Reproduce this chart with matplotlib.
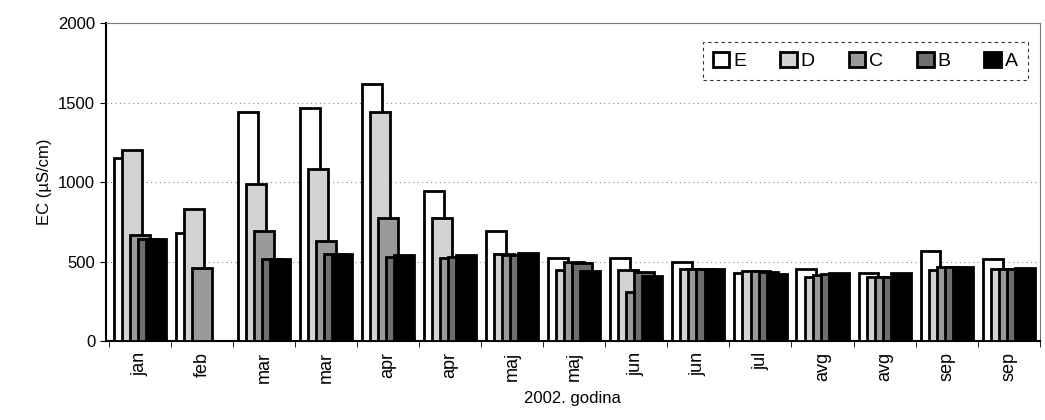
#!/usr/bin/env python3
"""EC by month and site, grouped overlapping bars."""

import numpy as np
import matplotlib

matplotlib.use("Agg")
import matplotlib.pyplot as plt

MONTHS = ["jan", "feb", "mar", "mar", "apr", "apr", "maj", "maj",
          "jun", "jun", "jul", "avg", "avg", "sep", "sep"]
SERIES = ["E", "D", "C", "B", "A"]

E = [1150, 680, 1440, 1465, 1620, 945, 690, 520, 520, 500, 425, 455, 430, 565, 515]
D = [1200, 830, 990, 1085, 1440, 775, 550, 450, 450, 455, 440, 400, 400, 445, 455]
C = [670, 460, 690, 630, 775, 520, 540, 500, 310, 455, 440, 415, 405, 465, 455]
B = [640, np.nan, 515, 550, 530, 530, 540, 490, 435, 455, 435, 420, 405, 465, 455]
A = [640, np.nan, 515, 550, 540, 540, 555, 440, 410, 455, 420, 430, 425, 465, 460]

COLORS = ["white", "#d2d2d2", "#9a9a9a", "#6e6e6e", "black"]

plt.rcParams["font.family"] = ["Liberation Sans", "DejaVu Sans"]

fig = plt.figure(figsize=(10.45, 4.2), dpi=100)
ax = fig.add_axes([0.101, 0.188, 0.894, 0.757])

x = np.arange(len(MONTHS))
step = 0.13
width = 0.32
for i, (name, vals, color) in enumerate(zip(SERIES, [E, D, C, B, A], COLORS)):
    ax.bar(x + (i - 2) * step, vals, width, color=color, edgecolor="black",
           linewidth=2, label=name, zorder=3 + i)

ax.set_xlim(-0.55, 14.45)
ax.set_ylim(0, 2000)
ax.set_yticks([0, 500, 1000, 1500, 2000])
ax.tick_params(axis="y", labelsize=12, length=4, direction="out")
ax.yaxis.grid(True, linestyle=(0, (1, 3)), color="#888888", linewidth=0.8, zorder=0)

ax.set_xticks(x)
ax.set_xticklabels(MONTHS, rotation=90, fontsize=13)
ax.tick_params(axis="x", length=0, pad=8)
ax.set_xticks(np.arange(-0.5, 14.6, 1), minor=True)
ax.tick_params(axis="x", which="minor", length=4)

for side in ("top", "right"):
    ax.spines[side].set_linestyle((0, (1, 1)))
    ax.spines[side].set_color("#777777")
ax.spines["left"].set_linewidth(1.5)
ax.spines["bottom"].set_linewidth(1.5)

ax.set_ylabel("EC (\u00b5S/cm)", fontsize=12)
ax.set_xlabel("2002. godina", fontsize=12, labelpad=6)

leg = ax.legend(loc="upper right", bbox_to_anchor=(0.987, 0.94), ncol=5,
                fontsize=14, frameon=True, fancybox=False, handlelength=0.85,
                handleheight=0.85, handletextpad=0.2, columnspacing=1.75,
                borderpad=0.5, borderaxespad=0)
frame = leg.get_frame()
frame.set_linestyle((0, (3, 3)))
frame.set_edgecolor("black")
frame.set_linewidth(0.8)

fig.savefig("out.png", dpi=100)
